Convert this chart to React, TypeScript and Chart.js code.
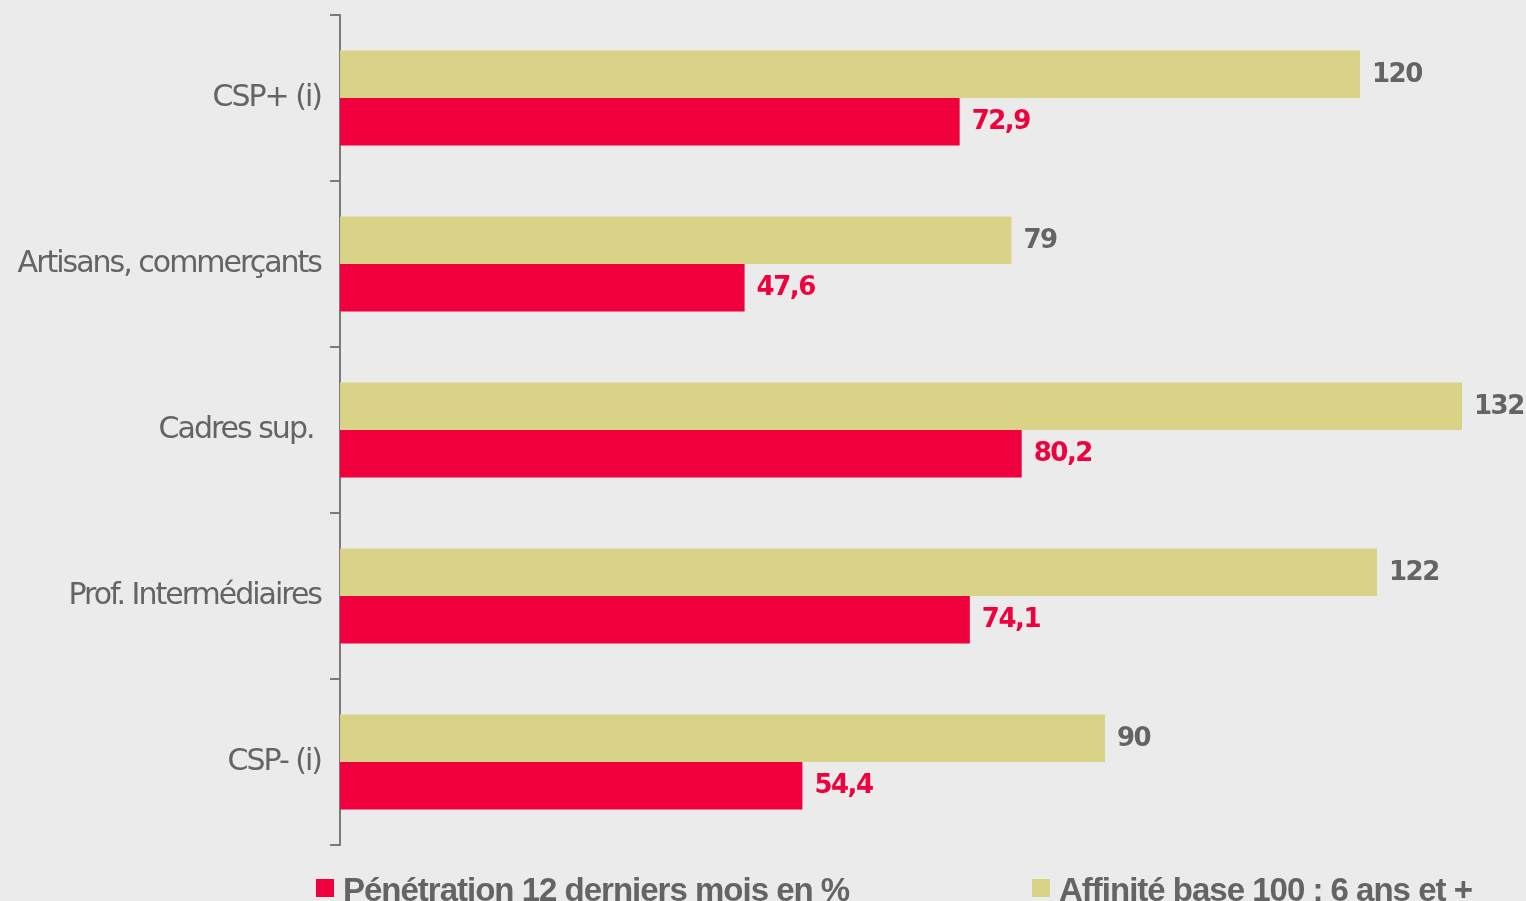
import React, { useEffect, useRef } from "react";
import { Chart, registerables } from "chart.js";

Chart.register(...registerables);

const categories = ["CSP+ (i)", "Artisans, commerçants", "Cadres sup. ", "Prof. Intermédiaires", "CSP- (i)"];
const affinity = [120, 79, 132, 122, 90];
const penetration = [72.9, 47.6, 80.2, 74.1, 54.4];
const seriesNames = ["Pénétration 12 derniers mois en %", "Affinité base 100 : 6 ans et +"];

const RED = "#f0003c";
const YELLOW = "#d9d387";
const GRAY_TEXT = "#646464";
const AXIS = "#7a7a7a";

const fmt = (v: number) => (Number.isInteger(v) ? String(v) : String(v).replace(".", ","));

export default function App() {
  const ref = useRef<HTMLCanvasElement>(null);

  useEffect(() => {
    const canvas = ref.current!;

    const tickSpacing = {
      id: "tickSpacing",
      beforeDraw(chart: any) {
        chart.ctx.save();
        chart.ctx.letterSpacing = "-2px";
      },
      beforeDatasetsDraw(chart: any) {
        chart.ctx.restore();
      },
    };

    const valueLabels = {
      id: "valueLabels",
      afterDatasetsDraw(chart: any) {
        const ctx = chart.ctx;
        ctx.save();
        ctx.letterSpacing = "-1.5px";
        ctx.font = "bold 26px 'DejaVu Sans'";
        ctx.textBaseline = "middle";
        ctx.textAlign = "left";
        chart.data.datasets.forEach((ds: any, di: number) => {
          const meta = chart.getDatasetMeta(di);
          ctx.fillStyle = di === 0 ? GRAY_TEXT : RED;
          meta.data.forEach((bar: any, i: number) => {
            ctx.fillText(fmt(ds.data[i]), bar.x + 12, bar.y + 1);
          });
        });
        ctx.restore();
      },
    };

    const bottomLegend = {
      id: "bottomLegend",
      afterDraw(chart: any) {
        const ctx = chart.ctx;
        ctx.save();
        ctx.letterSpacing = "-1px";
        ctx.font = "bold 33px 'Liberation Sans'";
        ctx.textBaseline = "alphabetic";
        ctx.textAlign = "left";
        const items = [
          { name: seriesNames[0], color: RED, x: 316 },
          { name: seriesNames[1], color: YELLOW, x: 1032 },
        ];
        items.forEach((it) => {
          ctx.fillStyle = it.color;
          ctx.fillRect(it.x, 879, 18, 18);
          ctx.fillStyle = GRAY_TEXT;
          ctx.fillText(it.name, it.x + 27, 901);
        });
        ctx.restore();
      },
    };

    const chart = new Chart(canvas, {
      type: "bar",
      data: {
        labels: categories,
        datasets: [
          { label: seriesNames[1], data: affinity, backgroundColor: YELLOW, borderWidth: 0 },
          { label: seriesNames[0], data: penetration, backgroundColor: RED, borderWidth: 0 },
        ],
      },
      options: {
        indexAxis: "y",
        responsive: false,
        animation: false,
        layout: { padding: { top: 15, bottom: 56, left: 0, right: 13 } },
        datasets: { bar: { categoryPercentage: 0.572, barPercentage: 1 } },
        plugins: {
          legend: { display: false },
          tooltip: { enabled: false },
        },
        scales: {
          x: {
            min: 0,
            max: 138,
            display: false,
            grid: { display: false },
          },
          y: {
            type: "category",
            offset: true,
            grid: {
              offset: true,
              drawOnChartArea: false,
              drawTicks: true,
              tickLength: 10,
              color: AXIS,
              lineWidth: 2,
            },
            border: { display: true, color: AXIS, width: 2 },
            ticks: {
              color: GRAY_TEXT,
              padding: 9,
              font: { family: "'DejaVu Sans'", size: 30, weight: "normal" },
            },
            afterFit(scale: any) {
              scale.width = 340;
              scale.paddingTop = 0;
              scale.paddingBottom = 0;
            },
          },
        },
      },
      plugins: [tickSpacing, valueLabels, bottomLegend],
    } as any);

    return () => chart.destroy();
  }, []);

  return (
    <div style={{ position: "fixed", left: 0, top: 0, width: 1526, height: 901, background: "#ebebeb", overflow: "hidden" }}>
      <canvas ref={ref} width={1526} height={901} style={{ display: "block" }} />
    </div>
  );
}
